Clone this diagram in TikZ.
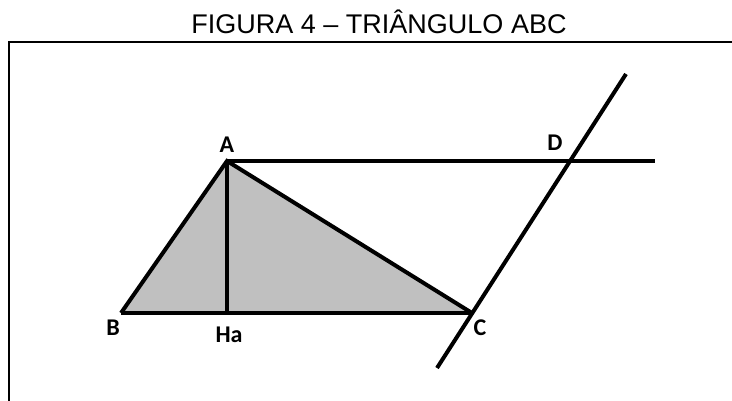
\documentclass[tikz,border=0pt]{standalone}
\usepackage{fontspec}
\setmainfont{Liberation Sans}
\newfontfamily\labelfont{Carlito}
\definecolor{trifill}{RGB}{192,192,192}

\begin{document}
\begin{tikzpicture}[x=1pt,y=-1pt,
		seg/.style = {line width=4pt},
		lbl/.style = {font=\labelfont\bfseries\fontsize{24}{24}\selectfont, inner sep=0pt}]
		\useasboundingbox (0,0) rectangle (732,401);
		
		\node (title) at (379,22) {\fontsize{27}{28}\selectfont FIGURA 4 – TRIÂNGULO ABC};
		\draw[line width=1.8pt] (9,401) -- (9,42) -- (732,42);
		
		\coordinate (A) at (227,161);
		\coordinate (B) at (121,313);
		\coordinate (Ha) at (227,313);
		\coordinate (C) at (472,313);
		\coordinate (E) at (655,161);
		\coordinate (P) at (437,368);
		\coordinate (Q) at (626,74);
		\coordinate (D) at (intersection of A--E and P--Q);
		
		\fill[trifill] (A) -- (B) -- (C) -- cycle;
		\draw[seg] (B) -- (C);
		\draw[seg] (B) -- (A) -- (C);
		\draw[seg] (A) -- (Ha);
		\draw[seg] (A) -- (E);
		\draw[seg] (P) -- (Q);
		
		\node[lbl] (lA) at (227,145) {A};
		\node[lbl] (lB) at (113,328) {B};
		\node[lbl] (lHa) at (229,335) {Ha};
		\node[lbl] (lC) at (480,328) {C};
		\node[lbl] (lD) at (555,143) {D};
	\end{tikzpicture}
\end{document}
